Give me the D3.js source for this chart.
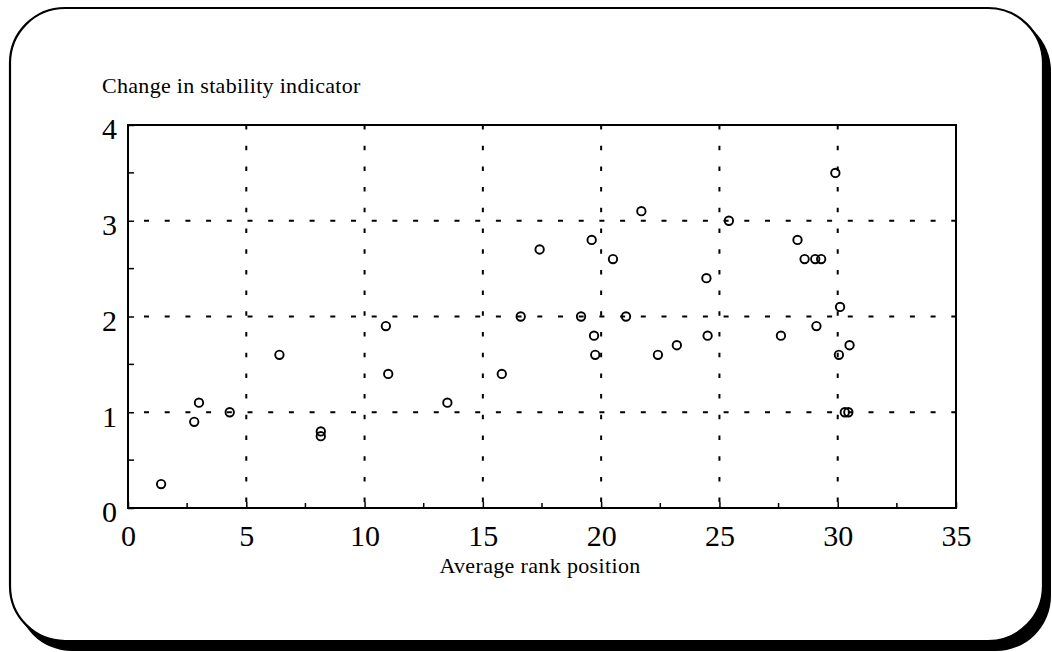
<!DOCTYPE html>
<html>
<head>
<meta charset="utf-8">
<script src="https://cdn.jsdelivr.net/npm/d3@7"></script>
<style>
  html, body { margin: 0; padding: 0; background: #fff; }
  svg { display: block; }
  text { font-family: "Liberation Serif", "Times New Roman", serif; fill: #000; }
</style>
</head>
<body>
<div id="d3-container"></div>
<script>
/* DATA */
const rankPosition = [
  1.4, 2.8, 3.0, 4.3, 6.4, 8.15, 8.15, 10.9, 11.0, 13.5, 15.8, 16.6,
  17.4, 19.15, 19.6, 19.7, 19.75, 20.5, 21.05, 21.7, 22.4, 23.2, 24.45, 24.5,
  25.4, 27.6, 28.3, 28.6, 29.05, 29.3, 29.1, 29.9, 30.1, 30.05, 30.5, 30.3, 30.45
];
const stabilityChange = [
  0.25, 0.9, 1.1, 1.0, 1.6, 0.8, 0.75, 1.9, 1.4, 1.1, 1.4, 2.0,
  2.7, 2.0, 2.8, 1.8, 1.6, 2.6, 2.0, 3.1, 1.6, 1.7, 2.4, 1.8,
  3.0, 1.8, 2.8, 2.6, 2.6, 2.6, 1.9, 3.5, 2.1, 1.6, 1.7, 1.0, 1.0
];
const xTicks = [0, 5, 10, 15, 20, 25, 30, 35];
const yTicks = [0, 1, 2, 3, 4];
const xMinorTicks = [2.5, 7.5, 12.5, 17.5, 22.5, 27.5, 32.5];
const yMinorTicks = [0.5, 1.5, 2.5, 3.5];
const yTitle = "Change in stability indicator";
const xTitle = "Average rank position";

/* CONSTANTS */
const width = 1052,
  height = 652,
  margin = { top: 125, bottom: 144, left: 128, right: 96 },
  radius = 4.2;

const points = rankPosition.map((d, i) => ({ x: d, y: stabilityChange[i] }));

const svg = d3.select("#d3-container")
  .append("svg")
  .attr("width", width)
  .attr("height", height);

// frame with drop shadow
svg.append("rect")
  .attr("x", 17).attr("y", 16)
  .attr("width", 1034).attr("height", 635)
  .attr("rx", 55).attr("ry", 55)
  .attr("fill", "#000");

svg.append("rect")
  .attr("x", 10).attr("y", 8)
  .attr("width", 1033).attr("height", 633)
  .attr("rx", 55).attr("ry", 55)
  .attr("fill", "#fff")
  .attr("stroke", "#000")
  .attr("stroke-width", 2.2);

// SCALES
const xScale = d3.scaleLinear()
  .domain([0, 35])
  .range([margin.left, width - margin.right]);

const yScale = d3.scaleLinear()
  .domain([0, 4])
  .range([height - margin.bottom, margin.top]);

const [x0, x1] = xScale.range();
const [y0, y1] = yScale.range();

// GRID
svg.append("g")
  .attr("class", "grid-x")
  .selectAll("line")
  .data(xTicks.slice(1, -1))
  .join("line")
  .attr("x1", d => xScale(d)).attr("x2", d => xScale(d))
  .attr("y1", y1).attr("y2", y0)
  .attr("stroke", "#000")
  .attr("stroke-width", 2)
  .attr("stroke-dasharray", "4.5,16.2");

svg.append("g")
  .attr("class", "grid-y")
  .selectAll("line")
  .data(yTicks.slice(1, -1))
  .join("line")
  .attr("x1", x0).attr("x2", x1)
  .attr("y1", d => yScale(d)).attr("y2", d => yScale(d))
  .attr("stroke", "#000")
  .attr("stroke-width", 1.8)
  .attr("stroke-dasharray", "5,15.7")
  .attr("stroke-dashoffset", -16);

// AXES
const xAxis = d3.axisBottom(xScale)
  .tickValues(xTicks)
  .tickFormat(d3.format("d"))
  .tickSizeInner(-6)
  .tickSizeOuter(0)
  .tickPadding(24);

const yAxis = d3.axisLeft(yScale)
  .tickValues(yTicks)
  .tickFormat(d3.format("d"))
  .tickSizeInner(-6)
  .tickSizeOuter(0)
  .tickPadding(11);

const gx = svg.append("g")
  .attr("class", "xAxis")
  .attr("transform", `translate(0, ${y0})`)
  .call(xAxis);

gx.selectAll(".tick text")
  .attr("font-family", "Liberation Serif, serif")
  .attr("font-size", 30)
  .attr("dy", "0.45em");

const gy = svg.append("g")
  .attr("class", "yAxis")
  .attr("transform", `translate(${x0}, 0)`)
  .call(yAxis);

gy.selectAll(".tick text")
  .attr("font-family", "Liberation Serif, serif")
  .attr("font-size", 30)
  .attr("dy", "0.46em");

svg.selectAll(".domain").remove();
svg.selectAll(".tick line").attr("stroke", "#000").attr("stroke-width", 1.5);

// minor ticks
svg.append("g")
  .selectAll("line")
  .data(xMinorTicks)
  .join("line")
  .attr("x1", d => xScale(d)).attr("x2", d => xScale(d))
  .attr("y1", y0).attr("y2", y0 - 5)
  .attr("stroke", "#000")
  .attr("stroke-width", 1.5);

svg.append("g")
  .selectAll("line")
  .data(yMinorTicks)
  .join("line")
  .attr("x1", x0).attr("x2", x0 + 6)
  .attr("y1", d => yScale(d)).attr("y2", d => yScale(d))
  .attr("stroke", "#000")
  .attr("stroke-width", 1.5);

// plot box
svg.append("rect")
  .attr("x", x0).attr("y", y1)
  .attr("width", x1 - x0).attr("height", y0 - y1)
  .attr("fill", "none")
  .attr("stroke", "#000")
  .attr("stroke-width", 2);

// TITLES
svg.append("text")
  .attr("x", 102)
  .attr("y", 93)
  .attr("font-size", 22)
  .attr("letter-spacing", 0.3)
  .text(yTitle);

svg.append("text")
  .attr("x", (x0 + x1) / 2 - 2)
  .attr("y", 573)
  .attr("text-anchor", "middle")
  .attr("font-size", 22)
  .attr("letter-spacing", 0.35)
  .text(xTitle);

// POINTS
svg.append("g")
  .selectAll("circle")
  .data(points)
  .join("circle")
  .attr("cx", d => xScale(d.x))
  .attr("cy", d => yScale(d.y))
  .attr("r", radius)
  .attr("fill", "none")
  .attr("stroke", "#000")
  .attr("stroke-width", 1.9);
</script>
</body>
</html>
